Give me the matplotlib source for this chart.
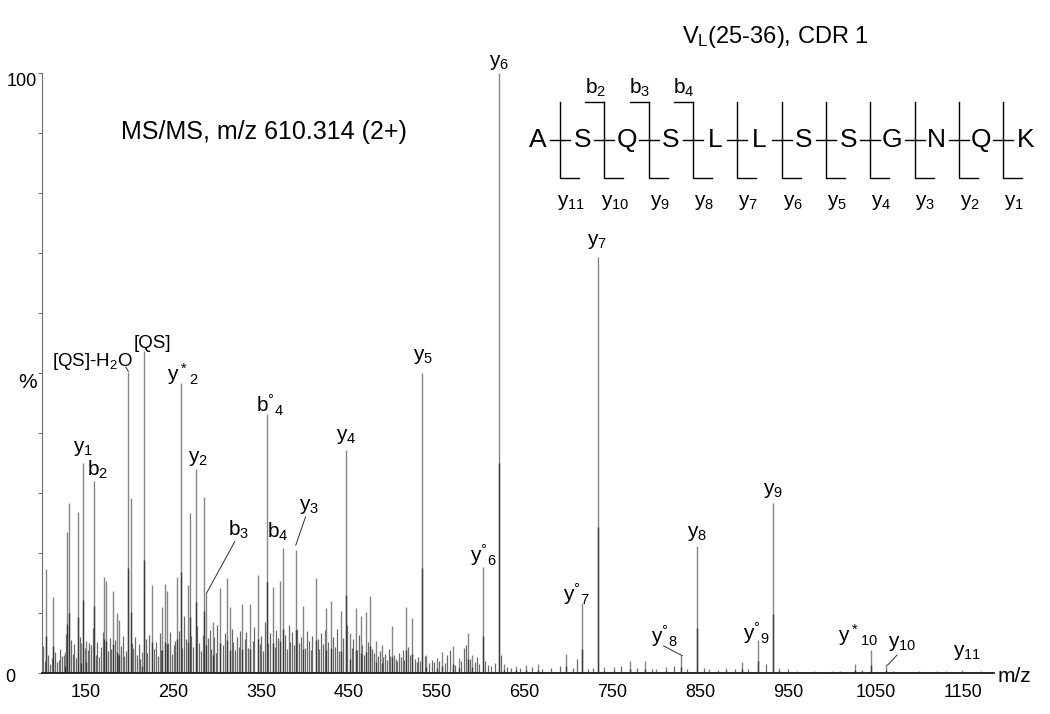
import numpy as np
import matplotlib
matplotlib.use('Agg')
import matplotlib.pyplot as plt

plt.rcParams['font.family'] = ['Liberation Sans', 'DejaVu Sans']
plt.rcParams['mathtext.default'] = 'regular'

# main peaks (m/z, relative intensity %)
peak_mz = [104.4, 112.7, 126.0, 128.6, 130.9, 141.2, 145.0, 147.1, 150.5, 159.1,
           170.8, 172.7, 181.0, 185.0, 188.0, 198.1, 200.9, 214.0, 216.1, 225.9,
           237.3, 240.0, 242.6, 254.0, 258.1, 266.0, 268.5, 275.2, 284.8, 287.1,
           294.5, 303.4, 311.0, 314.0, 328.5, 337.6, 345.6, 356.2, 362.7, 371.8,
           374.2, 389.2, 397.6, 412.0, 424.0, 429.2, 441.3, 446.2, 451.0, 457.3,
           463.0, 469.0, 474.0, 481.0, 487.0, 499.0, 515.4, 522.2, 533.3, 538.0,
           550.0, 556.0, 568.5, 575.0, 585.6, 590.0, 602.3, 620.3, 626.0, 640.0,
           652.0, 665.0, 697.6, 715.4, 733.4, 741.0, 752.0, 770.0, 787.0, 800.0,
           811.7, 828.5, 846.5, 860.0, 880.0, 898.0, 915.5, 933.5, 940.0, 1000.0,
           1026.0, 1044.5, 1061.6, 1130.0, 1148.6]
peak_int = [17.4, 12.7, 3.5, 23.5, 28.4, 26.8, 5.0, 35.0, 5.4, 32.0,
            16.0, 15.4, 13.7, 10.0, 8.8, 50.2, 29.2, 3.5, 53.7, 14.7,
            11.0, 14.8, 13.6, 16.0, 48.3, 14.7, 26.7, 34.0, 29.3, 13.3,
            8.5, 14.1, 15.9, 11.0, 11.5, 11.5, 16.4, 43.2, 14.3, 15.4,
            20.9, 20.5, 11.2, 15.8, 10.8, 12.0, 10.4, 37.2, 6.7, 10.9,
            9.5, 10.1, 12.8, 5.3, 4.7, 7.8, 11.0, 9.1, 50.0, 3.0,
            2.5, 3.5, 4.5, 2.5, 6.6, 3.0, 17.7, 100.0, 1.5, 1.2,
            1.3, 1.5, 3.2, 11.6, 69.3, 1.0, 1.0, 2.0, 2.0, 0.7,
            1.0, 3.0, 21.2, 0.6, 0.8, 1.9, 5.5, 28.3, 0.8, 0.3,
            1.5, 3.8, 1.5, 0.3, 0.5]

# low-level peaks
noise_mz = [101, 103, 107, 109, 111, 115, 117, 119, 121, 123,
            125, 127, 133, 135, 137, 139, 143, 149, 152, 154,
            156, 158, 161, 163, 165, 167, 169, 175, 177, 179,
            183, 187, 190, 192, 194, 196, 202, 204, 206, 208,
            210, 212, 218, 220, 222, 228, 230, 232, 234, 236,
            244, 246, 248, 250, 252, 256, 260, 262, 264, 270,
            272, 277, 279, 281, 283, 289, 291, 293, 296, 298,
            300, 306, 308, 316, 318, 320, 322, 324, 326, 331,
            333, 335, 340, 342, 348, 350, 352, 354, 358, 360,
            365, 367, 369, 377, 379, 381, 383, 385, 387, 391,
            393, 395, 400, 402, 404, 406, 408, 414, 416, 418,
            420, 422, 426, 432, 434, 436, 438, 443, 448, 453,
            455, 459, 461, 465, 467, 471, 476, 478, 483, 485,
            489, 491, 493, 495, 497, 501, 503, 505, 507, 509,
            511, 513, 517, 519, 525, 527, 529, 531, 536, 541,
            544, 547, 552, 559, 562, 565, 571, 578, 581, 583,
            588, 593, 596, 598, 605, 608, 612, 616, 623, 630,
            635, 645, 658, 670, 680, 690, 705, 710, 722, 728,
            760, 778, 795, 820, 835, 855, 870, 890, 905, 925,
            950, 960, 980, 1010, 1035, 1070, 1100, 1120, 1170, 1180]
noise_int = [4.5, 2.0, 3.0, 1.5, 2.5, 3.5, 1.8, 2.2, 4.0, 2.8,
             3.0, 6.5, 5.5, 3.2, 4.8, 2.5, 6.0, 4.2, 3.8, 5.0,
             4.6, 7.5, 3.0, 5.2, 2.6, 4.4, 6.8, 3.6, 5.8, 4.0,
             5.5, 3.2, 4.5, 6.2, 2.8, 3.6, 5.0, 4.2, 6.0, 3.0,
             4.8, 2.4, 5.6, 3.4, 6.4, 4.0, 5.2, 2.8, 6.6, 3.8,
             5.0, 6.8, 3.2, 4.6, 5.4, 7.0, 4.2, 9.5, 5.6, 6.2,
             4.4, 7.8, 5.0, 3.6, 6.4, 5.8, 7.2, 4.0, 6.0, 3.4,
             8.0, 4.6, 6.6, 7.4, 5.2, 3.8, 6.0, 4.4, 7.0, 5.6,
             6.8, 4.2, 5.4, 7.6, 4.8, 6.2, 3.6, 8.5, 5.0, 6.6,
             4.4, 7.2, 5.8, 6.4, 4.0, 8.0, 5.2, 6.8, 4.6, 7.4,
             5.0, 6.0, 4.2, 7.0, 5.4, 3.8, 6.2, 5.6, 4.0, 6.6,
             4.8, 7.2, 5.2, 6.0, 4.4, 7.4, 3.6, 5.8, 8.0, 4.2,
             5.6, 3.8, 6.4, 4.6, 3.0, 5.2, 4.0, 3.4, 2.8, 3.6,
             2.6, 3.2, 2.2, 4.0, 2.8, 3.0, 2.4, 2.0, 3.4, 2.6,
             3.8, 2.2, 4.4, 3.0, 2.4, 1.8, 2.6, 2.0, 2.8, 1.6,
             2.2, 1.8, 2.0, 1.6, 3.0, 3.8, 1.4, 2.0, 4.2, 4.6,
             2.4, 1.8, 2.6, 1.5, 2.0, 1.4, 1.2, 1.6, 3.0, 1.0,
             0.9, 0.8, 1.0, 0.7, 0.9, 1.2, 0.8, 2.4, 0.6, 0.9,
             1.2, 0.8, 0.7, 1.1, 0.6, 0.8, 0.5, 0.6, 0.7, 1.5,
             0.6, 0.4, 0.3, 0.4, 0.5, 0.3, 0.3, 0.4, 0.3, 0.2]

# peak annotations
ion_labels = ['y$_1$', 'b$_2$', '[QS]-H$_2$O', '[QS]', 'y$^*$$_2$', 'y$_2$', 'b$_3$',
              'b$^\u00b0$$_4$', 'b$_4$', 'y$_3$', 'y$_4$', 'y$_5$', 'y$_6$', 'y$^\u00b0$$_6$',
              'y$_7$', 'y$^\u00b0$$_7$', 'y$_8$', 'y$^\u00b0$$_8$', 'y$_9$', 'y$^\u00b0$$_9$',
              'y$^*$$_{10}$', 'y$_{10}$', 'y$_{11}$']
ion_label_mz = [146.9, 163.0, 157.5, 225.5, 260.9, 278.0, 324.6, 359.6, 369.1, 404.4,
                446.2, 534.0, 620.7, 603.5, 733.0, 709.0, 846.0, 809.8, 933.0, 914.0,
                1030.0, 1080.6, 1154.0]
ion_label_int = [37.5, 33.8, 51.9, 55.0, 49.9, 35.8, 23.8, 44.7, 23.5, 27.7,
                 39.4, 52.7, 101.8, 19.7, 72.0, 13.3, 23.3, 6.2, 30.5, 6.7,
                 6.3, 5.0, 3.5]
ion_label_size = [15, 15, 13.5, 13.5, 15, 15, 15, 15, 15, 15,
                  15, 15, 15, 15, 15, 15, 15, 15, 15, 15,
                  15, 15, 15]
# leader lines (label end -> peak top)
leaders = [((195.5, 51.0), (198.4, 50.3)),
           ((319.7, 21.9), (287.5, 13.3)),
           ((400.3, 26.0), (389.2, 21.3)),
           ((808.6, 4.5), (829.5, 2.9)),
           ((1074.5, 3.0), (1063.6, 1.3))]

sequence = ['A', 'S', 'Q', 'S', 'L', 'L', 'S', 'S', 'G', 'N', 'Q', 'K']
b_ions = {2: 'b$_2$', 3: 'b$_3$', 4: 'b$_4$'}

fig = plt.figure(figsize=(10.5, 7.14), dpi=100)
ax = fig.add_axes([0.04, 0.0574, 0.9067, 0.8403])

ax.vlines(noise_mz, 0, noise_int, color='#6a6a6a', lw=0.9)
ax.vlines(peak_mz, 0, peak_int, color='#858585', lw=1.0)
ax.vlines(peak_mz, 0, np.array(peak_int) * 0.35, color='#3c3c3c', lw=1.0)

for txt, x, y, fs in zip(ion_labels, ion_label_mz, ion_label_int, ion_label_size):
    ax.text(x, y, txt, ha='center', va='center', fontsize=fs, clip_on=False)
for (x0, y0), (x1, y1) in leaders:
    ax.plot([x0, x1], [y0, y1], color='#303030', lw=0.7)

ax.set_xlim(100, 1185)
ax.set_ylim(0, 100)
ax.spines['top'].set_visible(False)
ax.spines['right'].set_visible(False)
ax.spines['left'].set_color('#707070')
ax.spines['bottom'].set_color('#1a1a1a')
ax.spines['bottom'].set_linewidth(1.3)
ax.set_xticks(range(150, 1151, 100))
ax.tick_params(axis='x', length=0, pad=8, labelsize=13)
ax.set_yticks(range(0, 101, 10))
ax.set_yticklabels([])
ax.tick_params(axis='y', length=3, color='#707070', direction='out')

# overlay in pixel coordinates for free text and the sequence diagram
ov = fig.add_axes([0, 0, 1, 1], facecolor='none')
ov.set_xlim(0, 1050)
ov.set_ylim(714, 0)
ov.axis('off')

ov.text(22, 81, '100', ha='center', va='center', fontsize=13)
ov.text(10, 678, '0', ha='center', va='center', fontsize=13)
ov.text(28, 383, '%', ha='center', va='center', fontsize=15)
ov.text(1014, 677, 'm/z', ha='center', va='center', fontsize=15)
ov.text(264, 132, 'MS/MS, m/z 610.314 (2+)', ha='center', va='center', fontsize=18)
ov.text(775, 37, 'V$_L$(25-36), CDR 1', ha='center', va='center', fontsize=17)

x0, step, yl = 538, 44.3, 140
ytop, ybot, hook = 102, 178, 19
for i, aa in enumerate(sequence):
    ov.text(x0 + i * step, yl, aa, ha='center', va='center', fontsize=19)
for i in range(1, len(sequence)):
    xm = x0 + (i - 0.5) * step
    ov.plot([xm - 10, xm + 10], [yl, yl], color='k', lw=1)
    ov.plot([xm, xm, xm + hook], [ytop, ybot, ybot], color='k', lw=1)
    ov.text(xm + 11, 202, 'y$_{%d}$' % (len(sequence) - i), ha='center', va='center', fontsize=15)
    if i in b_ions:
        ov.plot([xm - hook, xm], [ytop, ytop], color='k', lw=1)
        ov.text(xm - 9, 88, b_ions[i], ha='center', va='center', fontsize=15)

fig.savefig('out.png', dpi=100)
